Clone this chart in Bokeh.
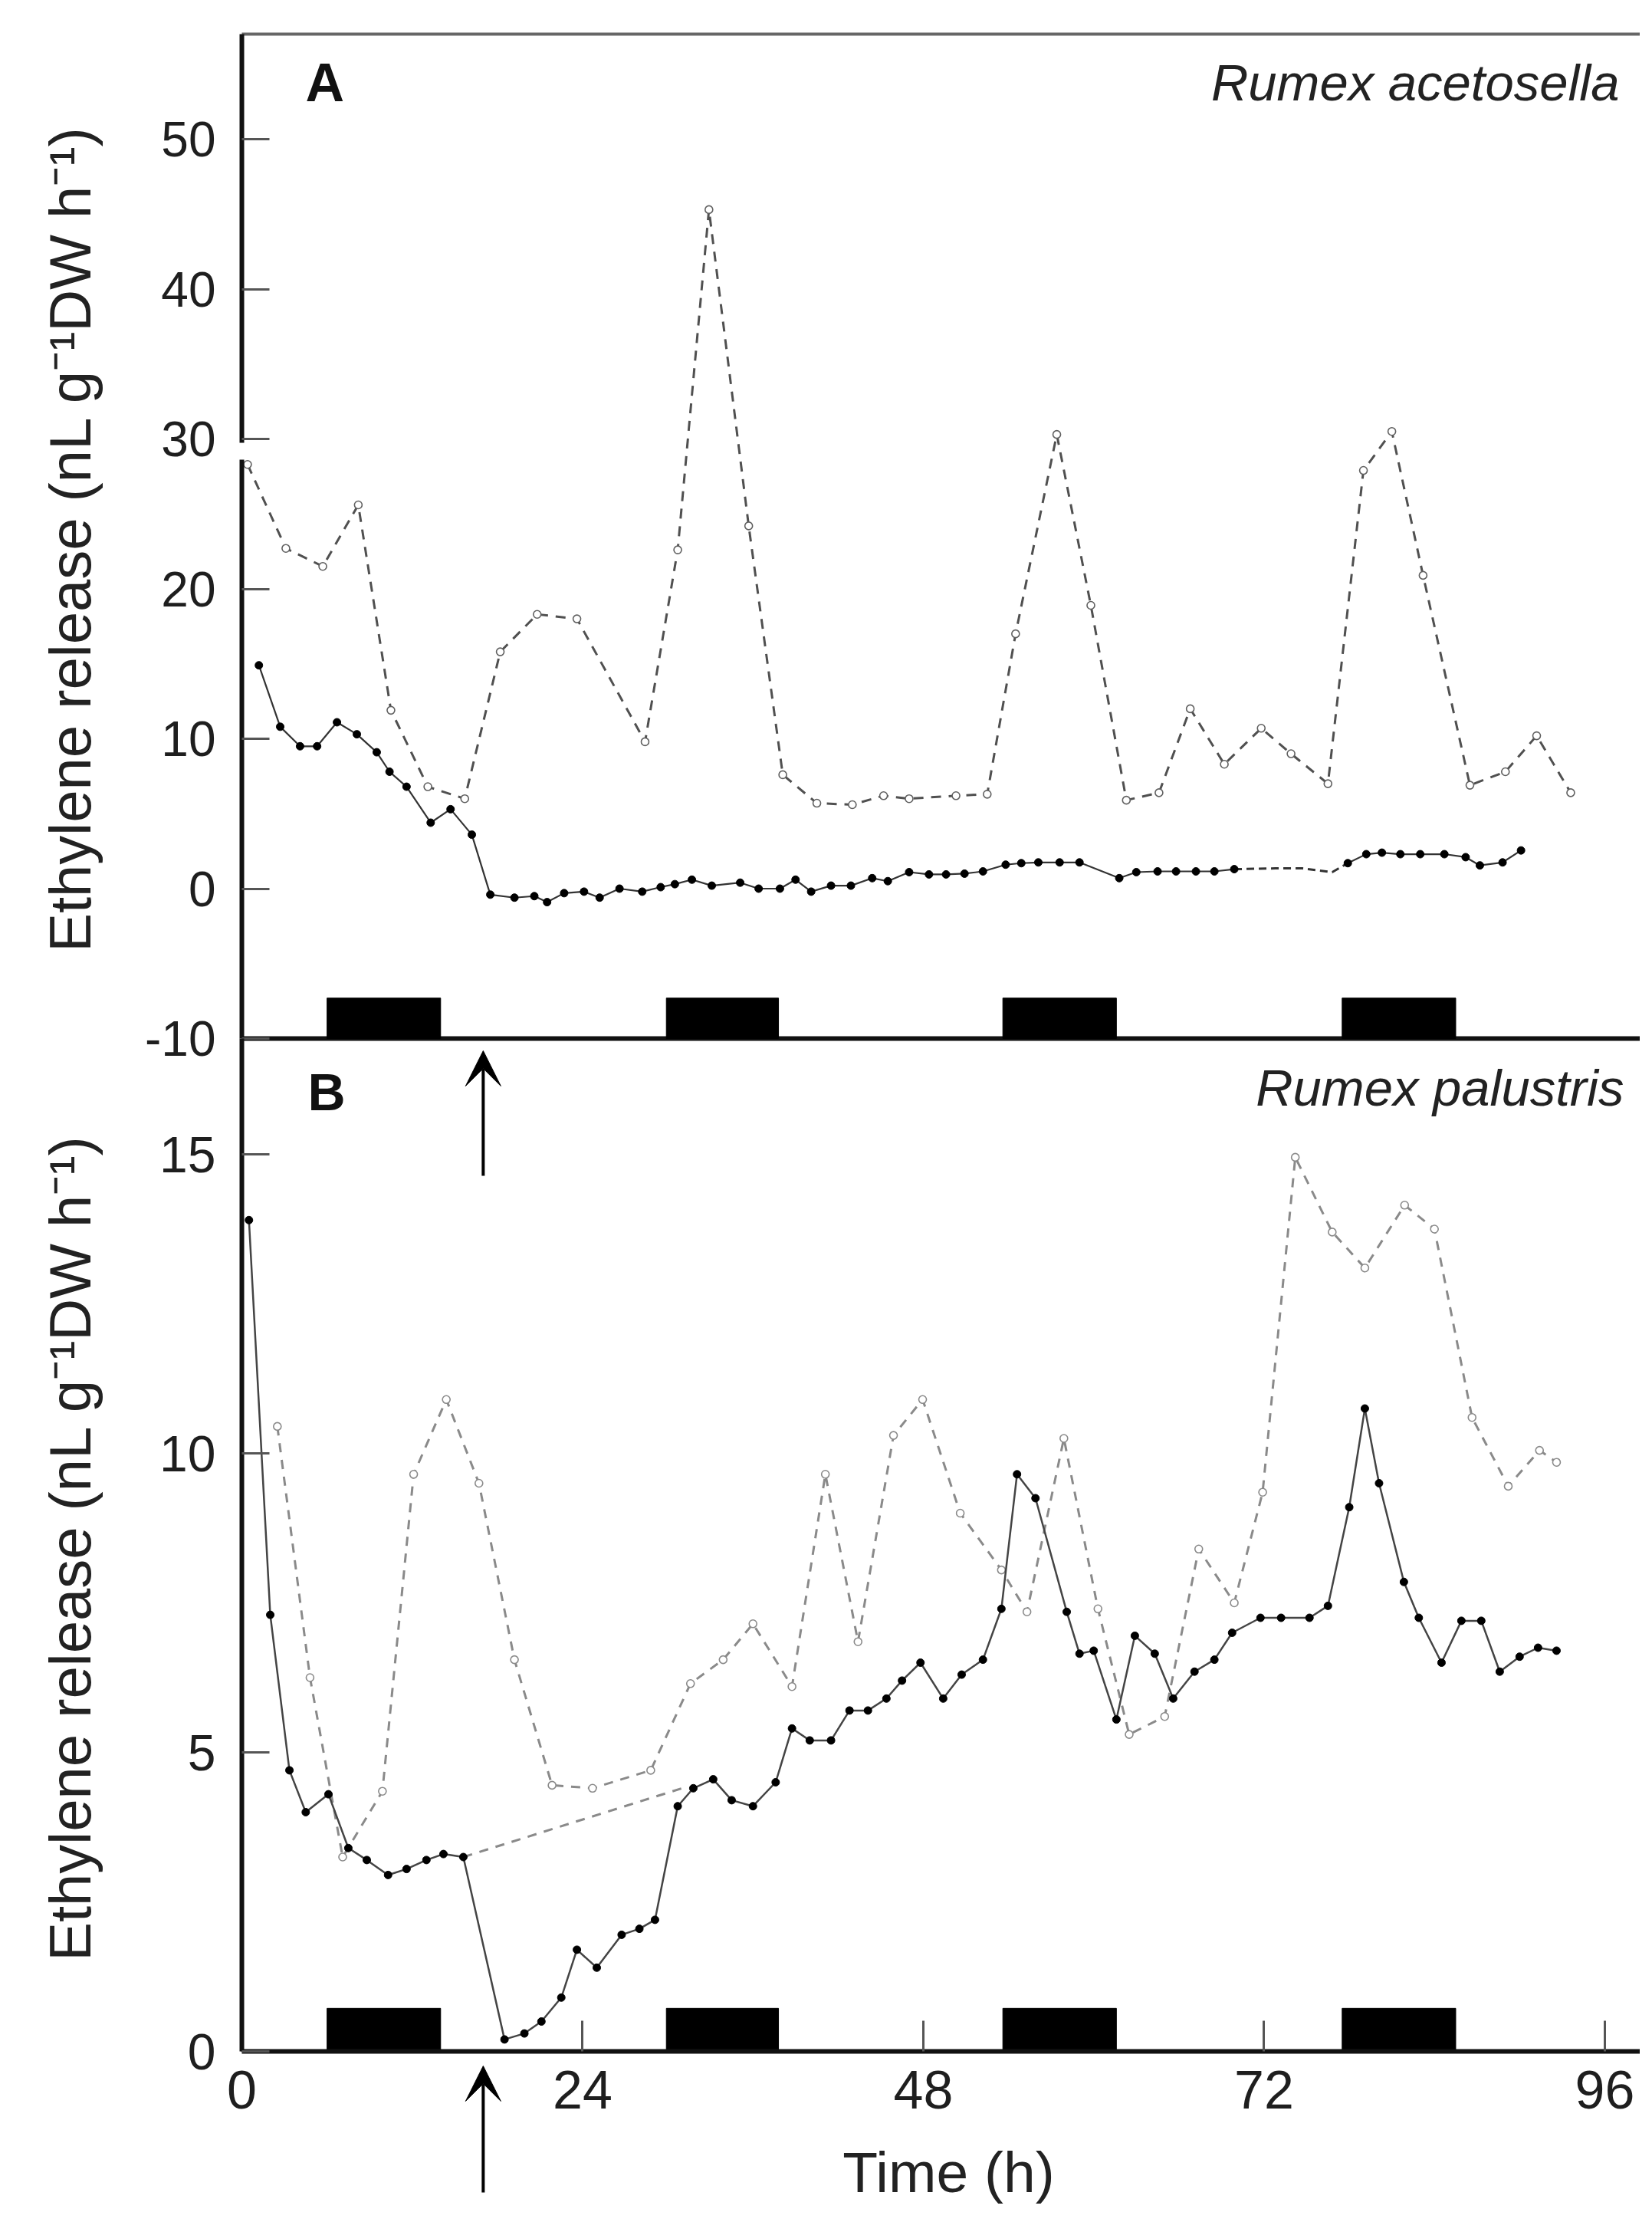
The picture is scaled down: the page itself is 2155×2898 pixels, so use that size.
import math
from bokeh.plotting import figure
from bokeh.models import Range1d, FixedTicker, Label, Arrow, VeeHead, LinearAxis
from bokeh.embed import file_html
from bokeh.resources import INLINE

# ---------------- data ----------------
# Panel A: Rumex acetosella
A_open_t = [0.4, 3.1, 5.7, 8.2, 10.5, 13.1, 15.7, 18.2, 20.8, 23.6, 28.4, 30.7, 32.9, 35.7,
            38.1, 40.5, 43.0, 45.2, 47.0, 50.3, 52.5, 54.5, 57.4, 59.8, 62.3, 64.6, 66.8,
            69.2, 71.8, 73.9, 76.5, 79.0, 81.0, 83.2, 86.5, 89.0, 91.2, 93.6]
A_open_v = [28.3, 22.7, 21.5, 25.6, 11.9, 6.8, 6.0, 15.8, 18.3, 18.0, 9.8, 22.6, 45.3, 24.2,
            7.6, 5.7, 5.6, 6.2, 6.0, 6.2, 6.3, 17.0, 30.3, 18.9, 5.9, 6.4, 12.0,
            8.3, 10.7, 9.0, 7.0, 27.9, 30.5, 20.9, 6.9, 7.8, 10.2, 6.4]

A_fill_t1 = [1.2, 2.7, 4.1, 5.3, 6.7, 8.1, 9.5, 10.4, 11.6, 13.3, 14.7, 16.2, 17.5, 19.2, 20.6,
             21.5, 22.7, 24.1, 25.2, 26.6, 28.2, 29.5, 30.5, 31.7, 33.1, 35.1, 36.4, 37.9, 39.0,
             40.1, 41.5, 42.9, 44.4, 45.5, 47.0, 48.4, 49.6, 50.9, 52.2, 53.8, 54.9, 56.1, 57.6,
             59.0, 61.8, 63.0, 64.5, 65.8, 67.2, 68.5, 69.9]
A_fill_v1 = [14.9, 10.8, 9.5, 9.5, 11.1, 10.3, 9.1, 7.8, 6.8, 4.4, 5.3, 3.6, -0.4, -0.6, -0.5,
             -0.9, -0.3, -0.2, -0.6, 0.0, -0.2, 0.1, 0.3, 0.6, 0.2, 0.4, 0.0, 0.0, 0.6,
             -0.2, 0.2, 0.2, 0.7, 0.5, 1.1, 0.95, 0.95, 1.0, 1.15, 1.6, 1.7, 1.75, 1.75,
             1.75, 0.7, 1.1, 1.15, 1.15, 1.15, 1.15, 1.3]
A_gap_t = [69.9, 72.8, 74.7, 76.8, 77.9]
A_gap_v = [1.3, 1.35, 1.35, 1.1, 1.7]
A_fill_t2 = [77.9, 79.2, 80.3, 81.6, 83.0, 84.7, 86.2, 87.2, 88.8, 90.1]
A_fill_v2 = [1.7, 2.3, 2.4, 2.3, 2.3, 2.3, 2.1, 1.55, 1.75, 2.55]

# Panel B: Rumex palustris
B_open_t = [2.5, 4.8, 7.1, 9.9, 12.1, 14.4, 16.7, 19.2, 21.85, 24.7, 28.8, 31.6, 33.9, 36.0,
            38.75, 41.1, 43.4, 45.9, 47.95, 50.6, 53.5, 55.3, 57.9, 60.3, 62.5, 65.0, 67.4,
            69.9, 71.9, 74.2, 76.8, 79.1, 81.9, 84.0, 86.65, 89.2, 91.4, 92.6]
B_open_v = [10.45, 6.25, 3.25, 4.35, 9.65, 10.9, 9.5, 6.55, 4.45, 4.4, 4.7, 6.15, 6.55, 7.15,
            6.1, 9.65, 6.85, 10.3, 10.9, 9.0, 8.05, 7.35, 10.25, 7.4, 5.3, 5.6, 8.4,
            7.5, 9.35, 14.95, 13.7, 13.1, 14.15, 13.75, 10.6, 9.45, 10.05, 9.85]

B_fill_t = [0.5, 2.0, 3.35, 4.5, 6.1, 7.5, 8.8, 10.3, 11.6, 13.0, 14.2, 15.6, 18.5, 19.9, 21.1,
            22.5, 23.6, 25.0, 26.75, 28.0, 29.1, 30.7, 31.8, 33.2, 34.5, 36.0, 37.6, 38.75,
            40.0, 41.5, 42.8, 44.1, 45.4, 46.5, 47.8, 49.4, 50.7, 52.2, 53.5, 54.6, 55.9,
            58.1, 59.0, 60.0, 61.6, 62.9, 64.3, 65.6, 67.1, 68.5, 69.75, 71.75, 73.2, 75.2,
            76.5, 78.0, 79.1, 80.1, 81.85, 82.9, 84.5, 85.9, 87.3, 88.6, 90.0, 91.3, 92.6]
B_fill_v = [13.9, 7.3, 4.7, 4.0, 4.3, 3.4, 3.2, 2.95, 3.05, 3.2, 3.3, 3.25, 0.2, 0.3, 0.5,
            0.9, 1.7, 1.4, 1.95, 2.05, 2.2, 4.1, 4.4, 4.55, 4.2, 4.1, 4.5, 5.4,
            5.2, 5.2, 5.7, 5.7, 5.9, 6.2, 6.5, 5.9, 6.3, 6.55, 7.4, 9.65, 9.25,
            7.35, 6.65, 6.7, 5.55, 6.95, 6.65, 5.9, 6.35, 6.55, 7.0, 7.25, 7.25, 7.25,
            7.45, 9.1, 10.75, 9.5, 7.85, 7.25, 6.5, 7.2, 7.2, 6.35, 6.6, 6.75, 6.7]
B_bridge_t = [15.6, 31.0]
B_bridge_v = [3.25, 4.4]

# dark periods (h)
dark_start = [6.0, 29.9, 53.6, 77.5]
dark_end = [14.0, 37.8, 61.6, 85.5]

# submergence time (h)
arrow_t = 17.0

A_ticks_low = [-10, 0, 10, 20]
A_ticks_high = [30, 40, 50]
B_ticks = [0, 5, 10, 15]
x_ticks = [0, 24, 48, 72, 96]

# ---------------- layout (pixel geometry of the page) ----------------
FONT = "Liberation Sans"
PAGE_OFF = 8                   # body margin
W, H = 2139, 2882              # canvas occupies page x 8..2147, y 8..2890
PX_H = 18.52                   # px per hour
X0 = 323                       # page x of t = 0
B_PX, B0 = 78.0, 2683          # panel B: px per unit, page y of value 0
A_PX, A10 = 19.55, 1362        # panel A: px per unit, page y of value -10
A_TOP = 52                     # page y of panel A top border


def t_at(px):                  # page x -> hours
    return (px - X0) / PX_H


def b_at(py):                  # page y -> panel B value
    return (B0 - py) / B_PX


def a_at(py):                  # page y -> panel A value
    return -10 + (A10 - py) / A_PX


x_start, x_end = t_at(PAGE_OFF), t_at(PAGE_OFF + W)
b_start, b_end = b_at(PAGE_OFF + H), b_at(PAGE_OFF)
a_start, a_end = a_at(PAGE_OFF + H), a_at(PAGE_OFF)
b_top = b_at(A10)
a_top = a_at(A_TOP)

p = figure(width=W, height=H, x_range=Range1d(x_start, x_end), y_range=Range1d(b_start, b_end),
           output_backend="svg", toolbar_location=None,
           x_axis_location=None, y_axis_location=None,
           min_border=0, min_border_left=0, min_border_right=0,
           min_border_top=0, min_border_bottom=0)
p.extra_y_ranges = {"A": Range1d(a_start, a_end)}
p.outline_line_color = None
p.background_fill_color = "white"
p.border_fill_color = "white"
p.grid.visible = False


def style_y(ax, size):
    ax.axis_line_width = 6
    ax.axis_line_color = "#111111"
    ax.major_tick_in = 36
    ax.major_tick_out = 0
    ax.major_tick_line_width = 3
    ax.major_tick_line_color = "#555555"
    ax.minor_tick_line_color = None
    ax.major_label_standoff = 34
    ax.major_label_text_font = FONT
    ax.major_label_text_font_size = size
    ax.major_label_text_color = "#1e1e1e"


# panel A y axis (drawn in two pieces, with the break near 30)
ax_a_low = LinearAxis(y_range_name="A", fixed_location=0, bounds=(-10, a_at(607)),
                      ticker=FixedTicker(ticks=A_ticks_low),
                      major_label_overrides={v: str(v) for v in A_ticks_low})
ax_a_high = LinearAxis(y_range_name="A", fixed_location=0, bounds=(a_at(585), a_top),
                       ticker=FixedTicker(ticks=A_ticks_high))
style_y(ax_a_low, "64px")
style_y(ax_a_high, "64px")
p.add_layout(ax_a_low, "left")
p.add_layout(ax_a_high, "left")

# panel B y axis
ax_b = LinearAxis(fixed_location=0, bounds=(0, b_top), ticker=FixedTicker(ticks=B_ticks))
style_y(ax_b, "66px")
p.add_layout(ax_b, "left")

# time axis (bottom of panel B)
ax_x = LinearAxis(fixed_location=0, bounds=(0, x_end), ticker=FixedTicker(ticks=x_ticks))
ax_x.axis_line_width = 6
ax_x.axis_line_color = "#111111"
ax_x.major_tick_in = 40
ax_x.major_tick_out = 0
ax_x.major_tick_line_width = 3
ax_x.major_tick_line_color = "#555555"
ax_x.minor_tick_line_color = None
ax_x.major_label_standoff = 25
ax_x.major_label_text_font = FONT
ax_x.major_label_text_font_size = "70px"
ax_x.major_label_text_color = "#1e1e1e"
p.add_layout(ax_x, "below")

# panel A frame lines: top border and the baseline at -10
p.segment(x0=[0], x1=[x_end], y0=[a_top], y1=[a_top], y_range_name="A",
          line_color="#666666", line_width=4)
p.segment(x0=[0], x1=[x_end], y0=[-10], y1=[-10], y_range_name="A",
          line_color="#111111", line_width=6)

# dark-period bars
p.quad(left=dark_start, right=dark_end, bottom=-10, top=-7.3, y_range_name="A",
       fill_color="black", line_color="black")
p.quad(left=dark_start, right=dark_end, bottom=0, top=0.72,
       fill_color="black", line_color="black")

# panel A series
p.line(A_open_t, A_open_v, y_range_name="A", line_color="#505050", line_width=3,
       line_dash="13 10")
p.scatter(A_open_t, A_open_v, y_range_name="A", marker="circle", size=10,
          fill_color="white", line_color="#606060", line_width=1.6)
p.line(A_gap_t, A_gap_v, y_range_name="A", line_color="#333333", line_width=3,
       line_dash="10 6")
p.line(A_fill_t1, A_fill_v1, y_range_name="A", line_color="#333333", line_width=2.2)
p.scatter(A_fill_t1, A_fill_v1, y_range_name="A", marker="circle", size=10,
          fill_color="black", line_color="black")
p.line(A_fill_t2, A_fill_v2, y_range_name="A", line_color="#333333", line_width=2.2)
p.scatter(A_fill_t2, A_fill_v2, y_range_name="A", marker="circle", size=10,
          fill_color="black", line_color="black")

# panel B series
p.line(B_open_t, B_open_v, line_color="#8a8a8a", line_width=3, line_dash="12 10")
p.scatter(B_open_t, B_open_v, marker="circle", size=10,
          fill_color="white", line_color="#8a8a8a", line_width=1.6)
p.line(B_bridge_t, B_bridge_v, line_color="#8a8a8a", line_width=3, line_dash="12 10")
p.line(B_fill_t, B_fill_v, line_color="#444444", line_width=2.5)
p.scatter(B_fill_t, B_fill_v, marker="circle", size=10,
          fill_color="black", line_color="black")

# arrows (time of submergence)
p.add_layout(Arrow(end=VeeHead(size=46, fill_color="black", line_color="black"),
                   x_start=arrow_t, y_start=b_at(1541), x_end=arrow_t, y_end=b_at(1378),
                   line_width=4, line_color="black"))
p.add_layout(Arrow(end=VeeHead(size=46, fill_color="black", line_color="black"),
                   x_start=arrow_t, y_start=b_at(2867), x_end=arrow_t, y_end=b_at(2702),
                   line_width=4, line_color="black"))

# panel letters and species names (anchored at the middle of the capitals)
p.add_layout(Label(x=t_at(406), y=a_at(115), y_range_name="A", text="A", text_font=FONT,
                   text_font_size="70px", text_font_style="bold", text_color="#111111",
                   text_align="left", text_baseline="middle"))
p.add_layout(Label(x=t_at(409), y=b_at(1431), text="B", text_font=FONT,
                   text_font_size="68px", text_font_style="bold", text_color="#111111",
                   text_align="left", text_baseline="middle"))
p.add_layout(Label(x=t_at(2120), y=a_at(115), y_range_name="A", text="Rumex acetosella",
                   text_font=FONT, text_font_size="67px", text_font_style="italic",
                   text_color="#222222", text_align="right", text_baseline="middle"))
p.add_layout(Label(x=t_at(2126), y=b_at(1426), text="Rumex palustris",
                   text_font=FONT, text_font_size="67px", text_font_style="italic",
                   text_color="#222222", text_align="right", text_baseline="middle"))

# axis titles
ytitle = "Ethylene release (nL g\u207b\u00b9DW h\u207b\u00b9)"
p.add_layout(Label(x=t_at(99), y=a_at(710), y_range_name="A", text=ytitle, angle=math.pi / 2,
                   text_font=FONT, text_font_size="76px", text_color="#222222",
                   text_align="center", text_baseline="middle"))
p.add_layout(Label(x=t_at(99), y=b_at(2026), text=ytitle, angle=math.pi / 2,
                   text_font=FONT, text_font_size="76px", text_color="#222222",
                   text_align="center", text_baseline="middle"))
p.add_layout(Label(x=t_at(1245), y=b_at(2840), text="Time (h)", text_font=FONT,
                   text_font_size="75px", text_color="#222222",
                   text_align="center", text_baseline="middle"))

open("out.html", "w").write(file_html(p, INLINE))
